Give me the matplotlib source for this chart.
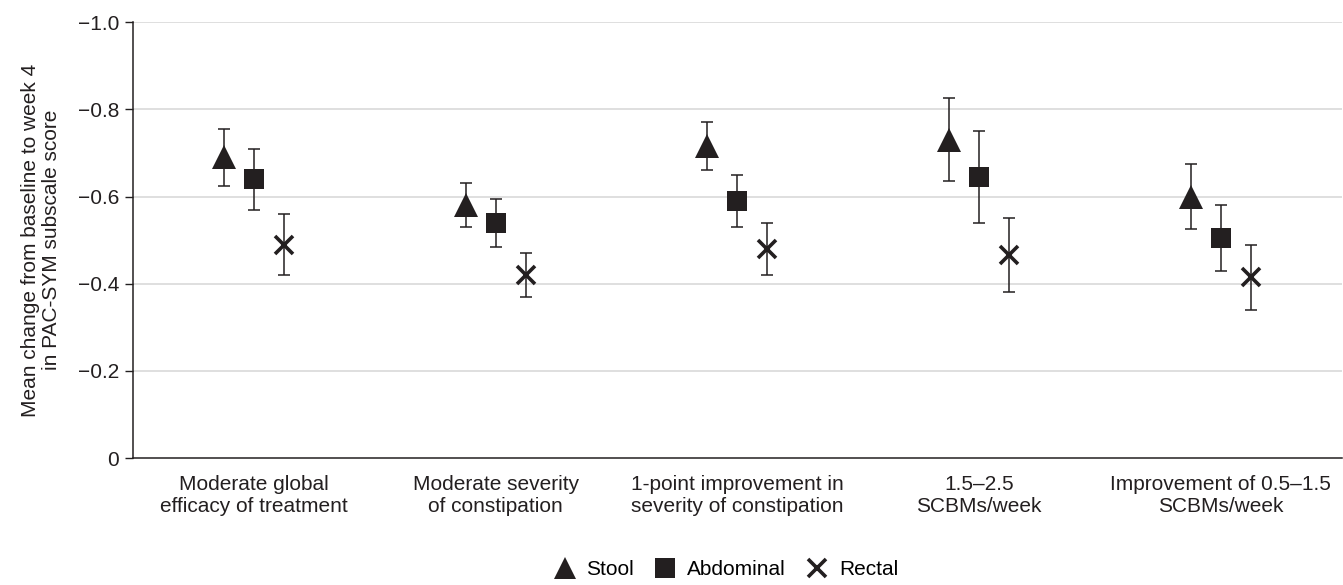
import matplotlib
matplotlib.use('Agg')
import matplotlib.pyplot as plt
import numpy as np
from matplotlib.ticker import FuncFormatter
from matplotlib.lines import Line2D

plt.rcParams['font.family'] = ['Liberation Sans', 'DejaVu Sans']

categories = ['Moderate global\nefficacy of treatment',
              'Moderate severity\nof constipation',
              '1-point improvement in\nseverity of constipation',
              '1.5–2.5\nSCBMs/week',
              'Improvement of 0.5–1.5\nSCBMs/week']
series = ['Stool', 'Abdominal', 'Rectal']
means = {
    'Stool': [-0.69, -0.58, -0.715, -0.73, -0.60],
    'Abdominal': [-0.64, -0.54, -0.59, -0.645, -0.505],
    'Rectal': [-0.49, -0.42, -0.48, -0.465, -0.415],
}
errs = {
    'Stool': [0.065, 0.05, 0.055, 0.095, 0.075],
    'Abdominal': [0.07, 0.055, 0.06, 0.105, 0.075],
    'Rectal': [0.07, 0.05, 0.06, 0.085, 0.075],
}
yticks = [0, -0.2, -0.4, -0.6, -0.8, -1.0]

ink = '#231f20'
fs = 15
styles = {
    'Stool': dict(marker='^', ms=17, mew=0),
    'Abdominal': dict(marker='s', ms=15, mew=0),
    'Rectal': dict(marker='x', ms=13, mew=2.6),
}
offsets = {'Stool': -0.124, 'Abdominal': 0.0, 'Rectal': 0.124}

fig = plt.figure(figsize=(13.43, 5.85), dpi=100)
ax = fig.add_axes([0.099, 0.217, 0.9, 0.745])

x = np.arange(len(categories))
for s in series:
    st = styles[s]
    ax.errorbar(x + offsets[s], means[s], yerr=errs[s], fmt='none',
                ecolor=ink, elinewidth=1.1, capsize=4, capthick=1.1, zorder=3)
    ax.plot(x + offsets[s], means[s], linestyle='none', color=ink,
            marker=st['marker'], markersize=st['ms'], markeredgewidth=st['mew'],
            markeredgecolor=ink, zorder=4)

ax.set_xlim(-0.5, len(categories) - 0.5)
ax.set_ylim(0, -1.0)
ax.set_yticks(yticks)
ax.yaxis.set_major_formatter(FuncFormatter(lambda v, p: '0' if v == 0 else f'{v:.1f}'.replace('-', '\u2212')))
ax.set_xticks(x)
ax.set_xticklabels(categories, fontsize=fs, color=ink, linespacing=1.25)
ax.tick_params(axis='x', length=0, pad=12)
ax.tick_params(axis='y', labelsize=fs, colors=ink, length=6, width=1, direction='out', pad=4)

for v in yticks[1:]:
    ax.axhline(v, color='#d9d9d9', linewidth=1.2, zorder=1)

for side in ['top', 'right']:
    ax.spines[side].set_visible(False)
for side in ['left', 'bottom']:
    ax.spines[side].set_color(ink)
    ax.spines[side].set_linewidth(1.1)

ax.set_ylabel('Mean change from baseline to week 4\nin PAC-SYM subscale score',
              fontsize=fs, color=ink, labelpad=12, linespacing=1.15)

handles = [Line2D([], [], linestyle='none', color=ink, marker=styles[s]['marker'],
                  markersize=styles[s]['ms'] * 0.95, markeredgewidth=styles[s]['mew'],
                  markeredgecolor=ink) for s in series]
fig.legend(handles, series, loc='lower center', bbox_to_anchor=(0.54, -0.022), ncol=3,
           frameon=False, fontsize=fs, handletextpad=0.45, columnspacing=0.9,
           handlelength=1.2)

fig.savefig('out.png', dpi=100)
